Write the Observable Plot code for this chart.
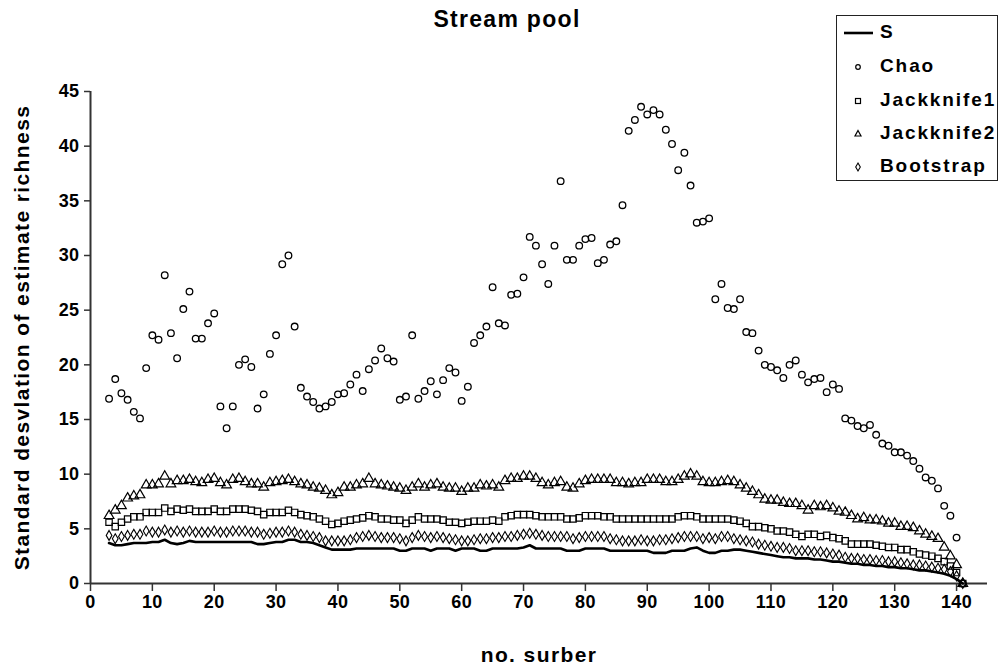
<!DOCTYPE html>
<html>
<head>
<meta charset="utf-8">
<script src="https://cdn.jsdelivr.net/npm/d3@7"></script>
<script src="https://cdn.jsdelivr.net/npm/@observablehq/plot@0.6"></script>
<style>
  html, body { margin: 0; padding: 0; background: #fff; }
  #wrap { position: relative; width: 1000px; height: 665px; font-family: "Liberation Sans", Arial, sans-serif; font-weight: bold; color: #000; }
  #title { position: absolute; top: 6px; left: 507px; transform: translateX(-50%); font-size: 23px; letter-spacing: 1.3px; white-space: nowrap; }
  #legend { position: absolute; left: 836px; top: 15px; width: 162px; height: 166px; border: 1.5px solid #222; background: #fff; box-sizing: border-box; }
  .lrow { position: absolute; left: 0; height: 24px; width: 160px; }
  .lrow svg { position: absolute; left: 6px; top: 1px; }
  .lrow span { position: absolute; left: 43px; top: 0px; font-size: 19px; letter-spacing: 1.9px; white-space: nowrap; }
  #chart svg text { letter-spacing: 0.4px; }
</style>
</head>
<body>
<div id="wrap">
  <div id="chart"></div>
  <div id="title">Stream pool</div>
  <div id="legend"></div>
</div>
<script>
// ---- data ----
const firstSurber = 3;
const xTicks = [0, 10, 20, 30, 40, 50, 60, 70, 80, 90, 100, 110, 120, 130, 140];
const yTicks = [0, 5, 10, 15, 20, 25, 30, 35, 40, 45];
const seriesNames = ["S", "Chao", "Jackknife1", "Jackknife2", "Bootstrap"];
const yTitle = "Standard desvlation of estimate richness";
const xTitle = "no. surber";

const sValues = [3.7,3.5,3.5,3.6,3.7,3.7,3.7,3.8,3.8,4.0,3.7,3.6,3.7,3.9,3.8,3.8,3.8,3.8,3.8,3.8,3.8,3.8,3.8,3.8,3.6,3.6,3.7,3.8,3.8,4.0,4.0,3.8,3.8,3.7,3.5,3.3,3.1,3.1,3.1,3.1,3.2,3.2,3.2,3.2,3.2,3.2,3.2,3.0,3.0,3.2,3.2,3.2,3.0,3.2,3.2,3.2,3.0,3.2,3.2,3.2,3.0,3.0,3.2,3.2,3.2,3.2,3.2,3.3,3.5,3.2,3.2,3.2,3.2,3.2,3.0,3.0,3.0,3.2,3.2,3.2,3.2,3.0,3.0,3.0,3.0,3.0,3.0,3.0,2.8,2.8,2.8,3.0,3.0,3.0,3.2,3.3,3.0,2.8,2.8,3.0,3.0,3.1,3.1,3.0,2.9,2.8,2.7,2.6,2.5,2.4,2.4,2.3,2.3,2.3,2.2,2.2,2.1,2.0,2.0,1.9,1.8,1.8,1.7,1.7,1.6,1.6,1.5,1.5,1.4,1.4,1.3,1.2,1.2,1.1,1.0,0.9,0.7,0.4,0.0];

const chaoValues = [16.9,18.7,17.4,16.8,15.7,15.1,19.7,22.7,22.3,28.2,22.9,20.6,25.1,26.7,22.4,22.4,23.8,24.7,16.2,14.2,16.2,20.0,20.5,19.8,16.0,17.3,21.0,22.7,29.2,30.0,23.5,17.9,17.1,16.6,16.0,16.2,16.6,17.3,17.4,18.2,19.1,17.6,19.6,20.4,21.5,20.6,20.3,16.8,17.1,22.7,16.9,17.6,18.5,17.3,18.6,19.7,19.3,16.7,18.0,22.0,22.7,23.5,27.1,23.8,23.6,26.4,26.5,28.0,31.7,30.9,29.2,27.4,30.9,36.8,29.6,29.6,30.9,31.5,31.6,29.3,29.6,31.0,31.3,34.6,41.4,42.4,43.6,42.9,43.3,42.9,41.5,40.2,37.8,39.4,36.4,33.0,33.1,33.4,26.0,27.4,25.2,25.1,26.0,23.0,22.9,21.3,20.0,19.8,19.5,18.8,20.0,20.4,19.1,18.4,18.7,18.8,17.5,18.2,17.8,15.1,14.9,14.4,14.2,14.5,13.6,12.8,12.6,12.0,12.0,11.7,11.2,10.5,9.7,9.4,8.7,7.1,6.2,4.2,0.0];

const jack1Values = [5.6,5.2,5.6,5.9,6.1,6.1,6.5,6.5,6.5,6.9,6.6,6.8,6.7,6.8,6.6,6.6,6.6,6.8,6.6,6.6,6.8,6.8,6.8,6.7,6.6,6.3,6.5,6.5,6.5,6.7,6.5,6.3,6.2,6.1,5.9,5.7,5.4,5.5,5.7,5.8,5.9,6.0,6.2,6.1,5.9,5.9,5.8,5.8,5.5,5.8,6.1,5.9,5.9,5.9,5.8,5.6,5.6,5.5,5.6,5.7,5.7,5.7,5.8,5.7,6.1,6.2,6.3,6.3,6.3,6.2,6.1,6.1,6.1,6.1,5.9,5.9,6.0,6.2,6.2,6.2,6.1,6.1,5.9,5.9,5.9,5.9,5.9,5.9,5.9,5.9,5.9,5.9,6.1,6.2,6.2,6.1,5.9,5.9,5.9,5.9,5.9,5.8,5.7,5.5,5.2,5.2,5.1,5.0,4.8,4.8,4.7,4.5,4.3,4.5,4.5,4.3,4.4,4.2,4.1,3.9,3.6,3.6,3.6,3.6,3.5,3.4,3.3,3.3,3.1,3.1,2.9,2.7,2.6,2.5,2.3,2.0,1.6,1.0,0.0];

const jack2Values = [6.2,6.7,7.1,7.8,8.0,8.1,9.0,9.0,9.1,9.8,9.1,9.4,9.4,9.5,9.3,9.2,9.5,9.6,9.2,9.0,9.5,9.6,9.3,9.1,9.1,8.8,9.2,9.3,9.4,9.5,9.3,9.1,9.0,8.8,8.7,8.5,8.1,8.3,8.8,8.8,9.0,9.1,9.6,9.1,9.0,8.9,8.8,8.7,8.5,8.8,9.1,8.8,9.0,9.1,8.8,8.7,8.7,8.4,8.7,8.7,9.0,8.9,9.0,8.8,9.4,9.6,9.6,9.8,9.8,9.6,9.2,9.0,9.2,9.3,8.8,8.7,9.1,9.4,9.5,9.5,9.5,9.5,9.2,9.2,9.1,9.2,9.2,9.5,9.5,9.5,9.3,9.3,9.5,9.8,10.0,9.8,9.3,9.2,9.2,9.3,9.4,9.3,9.0,8.7,8.4,8.1,7.7,7.6,7.6,7.4,7.3,7.3,7.1,6.7,7.1,7.0,7.1,6.9,6.6,6.5,6.2,5.9,6.0,5.8,5.8,5.7,5.5,5.5,5.2,5.2,5.1,4.8,4.5,4.3,4.1,3.3,2.5,1.7,0.0];

const bootValues = [4.4,4.1,4.3,4.4,4.5,4.5,4.8,4.7,4.7,4.9,4.7,4.8,4.7,4.8,4.7,4.7,4.7,4.8,4.7,4.7,4.8,4.8,4.8,4.7,4.7,4.5,4.6,4.7,4.7,4.8,4.7,4.5,4.4,4.3,4.2,3.9,3.9,3.9,3.9,4.0,4.2,4.3,4.4,4.3,4.2,4.2,4.2,4.1,3.9,4.2,4.4,4.3,4.2,4.3,4.2,4.1,4.0,3.9,3.9,4.0,4.1,4.1,4.2,4.2,4.3,4.3,4.4,4.5,4.6,4.5,4.4,4.3,4.3,4.3,4.3,4.1,4.2,4.3,4.3,4.3,4.3,4.1,4.0,3.9,3.9,3.9,4.0,3.9,3.9,4.0,4.0,4.1,4.2,4.3,4.3,4.3,4.1,4.2,4.1,4.3,4.3,4.1,4.0,3.9,3.8,3.6,3.5,3.4,3.3,3.3,3.2,3.0,3.0,3.0,2.9,2.9,2.8,2.7,2.6,2.4,2.3,2.3,2.2,2.2,2.1,2.1,2.0,2.0,1.9,1.8,1.7,1.7,1.6,1.5,1.4,1.3,1.1,0.7,0.0];

// ---- build tables ----
const toRows = vals => vals.map((v, i) => ({x: firstSurber + i, y: v}));
const sData = toRows(sValues);
const chaoData = toRows(chaoValues);
const jack1Data = toRows(jack1Values);
const jack2Data = toRows(jack2Values);
const bootData = toRows(bootValues);

const FONT = "'Liberation Sans', Arial, sans-serif";
const axisColor = "#333";

const chart = Plot.plot({
  width: 1000,
  height: 665,
  marginLeft: 90,
  marginRight: 13,
  marginTop: 91,
  marginBottom: 82,
  style: {fontFamily: FONT, fontWeight: "bold", fontSize: "17px", color: "#000", background: "#fff"},
  x: {domain: [0, 145]},
  y: {domain: [0, 45]},
  marks: [
    Plot.axisX({ticks: xTicks, tickSize: 8, tickPadding: 4, label: null, stroke: axisColor, strokeWidth: 1.5, fontSize: 18, fontWeight: "bold"}),
    Plot.axisY({ticks: yTicks, tickSize: 6, tickPadding: 5, label: null, stroke: axisColor, strokeWidth: 1.5, fontSize: 18, fontWeight: "bold"}),
    Plot.ruleY([0], {stroke: axisColor, strokeWidth: 2}),
    Plot.ruleX([0], {stroke: axisColor, strokeWidth: 2}),
    Plot.dot(chaoData, {x: "x", y: "y", symbol: "circle", r: 3.3, stroke: "#000", fill: "none", strokeWidth: 1.3}),
    Plot.dot(jack2Data, {x: "x", y: "y", symbol: "triangle", r: 3.6, stroke: "#000", fill: "none", strokeWidth: 1.2}),
    Plot.dot(jack1Data, {x: "x", y: "y", symbol: "square", r: 3.6, stroke: "#000", fill: "none", strokeWidth: 1.2}),
    Plot.dot(bootData, {x: "x", y: "y", symbol: "diamond", r: 3.0, stroke: "#000", fill: "none", strokeWidth: 1.1}),
    Plot.line(sData, {x: "x", y: "y", stroke: "#000", strokeWidth: 2.6}),
    Plot.text([yTitle], {frameAnchor: "left", textAnchor: "middle", lineAnchor: "middle", dx: -68, rotate: -90, fontSize: 21, fontWeight: "bold", fill: "#000"}),
    Plot.text([xTitle], {frameAnchor: "bottom", textAnchor: "middle", lineAnchor: "middle", dy: 72, fontSize: 21, fontWeight: "bold", fill: "#000"})
  ]
});
document.getElementById("chart").appendChild(chart);
// wider glyph spacing for the axis titles, as in the reference rendering
d3.select(chart).selectAll("text").filter(function() { return this.textContent === yTitle || this.textContent === xTitle; })
  .style("letter-spacing", "1.4px");

// ---- legend ----
const legendSymbols = {
  S: '<line x1="1" y1="11" x2="30" y2="11" stroke="#000" stroke-width="2.6"/>',
  Chao: '<circle cx="15" cy="11" r="2.3" fill="none" stroke="#000" stroke-width="1.2"/>',
  Jackknife1: '<rect x="12.5" y="8.5" width="5" height="5" fill="none" stroke="#000" stroke-width="1.2"/>',
  Jackknife2: '<path d="M15 7.5 L18 13 L12 13 Z" fill="none" stroke="#000" stroke-width="1.2"/>',
  Bootstrap: '<path d="M15 7 L17.3 11 L15 15 L12.7 11 Z" fill="none" stroke="#000" stroke-width="1.1"/>'
};
const legendTops = [5, 39, 73, 106, 139];
const legend = document.getElementById("legend");
seriesNames.forEach((name, i) => {
  const row = document.createElement("div");
  row.className = "lrow";
  row.style.top = legendTops[i] + "px";
  row.innerHTML = `<svg width="32" height="22">${legendSymbols[name]}</svg><span>${name}</span>`;
  legend.appendChild(row);
});
</script>
</body>
</html>
